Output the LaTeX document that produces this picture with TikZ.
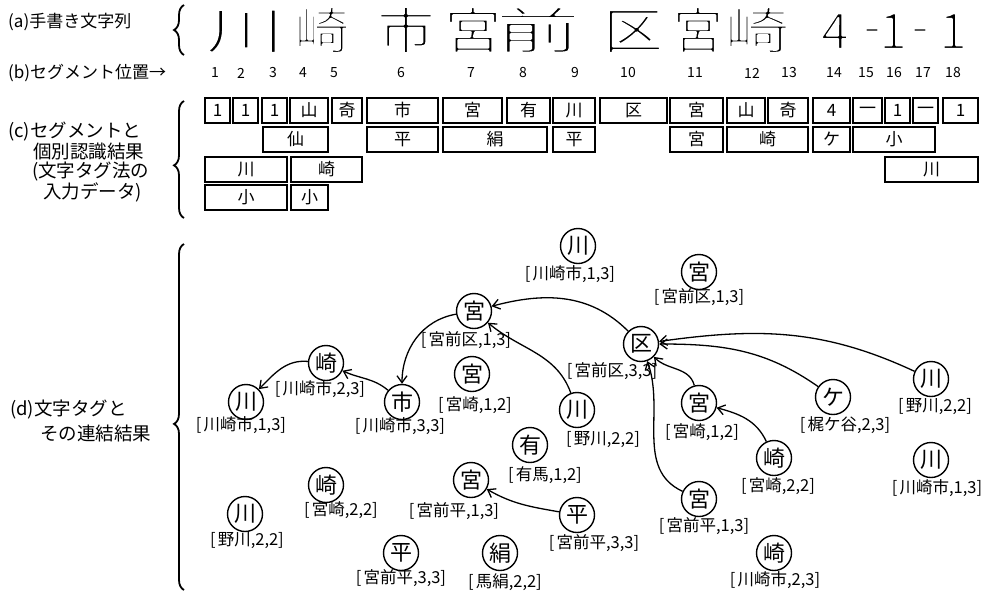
\documentclass[tikz,border=0pt]{standalone}
\usepackage{graphicx}
\usepackage{fontspec}
\setmainfont{Noto Sans CJK JP}
\usetikzlibrary{arrows.meta,decorations.pathreplacing}
\newcommand{\mkseg}[5]{\node[segbox,minimum width={(#3)-(#2)}] (#1) at ({((#2)+(#3))/2},#4) {#5};}
\newcommand{\tagtxt}[1]{[\kern2pt #1]}
\newcommand{\thin}[1]{\special{pdf:code 2 Tr 1 1 1 RG 2.2 w 1 j}#1\special{pdf:code 0 Tr 0 0 0 RG 0.4 w 0 j}}
\begin{document}
\begin{tikzpicture}[x=1pt,y=1pt,
 tagc/.style={circle,draw,line width=1.4pt,minimum size=35pt,inner sep=0pt,font=\fontsize{22}{22}\selectfont},
 taglbl/.style={inner sep=0pt,font=\fontsize{16.5}{16.5}\selectfont},
 segbox/.style={draw,line width=1.2pt,minimum height=25pt,inner sep=0pt,font=\fontsize{17}{17}\selectfont},
 lbl/.style={anchor=west,inner sep=0pt,font=\fontsize{17}{17}\selectfont},
 lblb/.style={anchor=west,inner sep=0pt,font=\fontsize{18.5}{18.5}\selectfont},
 num/.style={inner sep=0pt,font=\fontsize{14}{14}\selectfont},
 hw/.style={inner sep=0pt,anchor=base,font=\fontsize{50}{50}\selectfont},
 link/.style={line width=1.3pt,-{Straight Barb[length=7pt,width=10pt]}},
 brc/.style={decorate,line width=1.8pt,decoration={brace,amplitude=10pt,#1}},
 brc/.default={aspect=0.5}
]
\useasboundingbox (0,0) rectangle (987,-592);

% ---- left labels
\node[lbl] (la) at (8,-22) {(a)手書き文字列};
\node[lbl] (lb) at (8,-73) {(b)セグメント位置→};
\node[lblb] (lc1) at (8,-132) {(c)セグメントと};
\node[lblb] (lc2) at (33,-152) {個別認識結果};
\node[lblb] (lc3) at (32,-172) {(文字タグ法の};
\node[lblb] (lc4) at (43,-192) {入力データ)};
\node[lblb] (ld1) at (10,-410) {(d)文字タグと};
\node[lblb] (ld2) at (40,-433) {その連結結果};

% ---- braces
\draw[brc] (184,-55) -- (184,-5);
\draw[brc={aspect=0.45}] (184,-218) -- (184,-101);
\draw[brc={aspect=0.48}] (184,-590) -- (184,-244);

% ---- (a) handwritten string
\node[hw] (h1) at (245,-49) {\scalebox{1.6}[1]{\thin{川}}};
\node[hw] (h2) at (322,-49) {\scalebox{1.1}[1]{\thin{崎}}};
\node[hw] (h3) at (406,-49) {\scalebox{1.15}[1]{\thin{市}}};
\node[hw] (h4) at (473,-49) {\scalebox{1.15}[1]{\thin{宮}}};
\node[hw] (h5) at (538,-49) {\scalebox{1.7}[1]{\thin{前}}};
\node[hw] (h6) at (633,-49) {\scalebox{1.2}[1]{\thin{区}}};
\node[hw] (h7) at (698,-49) {\thin{宮}};
\node[hw] (h8) at (757,-49) {\scalebox{1.3}[1]{\thin{崎}}};
\node[hw] (h9) at (835,-49) {\thin{4}};
\node[hw] (h10) at (872,-44) {\thin{-}};
\node[hw] (h11) at (893,-49) {\thin{1}};
\node[hw] (h12) at (920,-44) {\thin{-}};
\node[hw] (h13) at (953,-49) {\thin{1}};

% ---- (b) segment positions
\foreach \n/\x in {1/215,2/241,3/273,4/303,5/334,6/401,7/471,8/523,9/575,10/628,11/695,12/752,13/789,14/834,15/866,16/894,17/923,18/953}
  \node[num] (n\n) at (\x,-73) {\n};

% ---- (c) segments, row 1
\mkseg{r1a}{205}{230}{-110.5}{1}
\mkseg{r1b}{233}{258}{-110.5}{1}
\mkseg{r1c}{262}{287}{-110.5}{1}
\mkseg{r1d}{290}{328}{-110.5}{山}
\mkseg{r1e}{332}{362}{-110.5}{奇}
\mkseg{r1f}{367}{438}{-110.5}{市}
\mkseg{r1g}{443}{502}{-110.5}{宮}
\mkseg{r1h}{507}{550}{-110.5}{有}
\mkseg{r1i}{553}{595}{-110.5}{川}
\mkseg{r1j}{600}{667}{-110.5}{区}
\mkseg{r1k}{670}{723}{-110.5}{宮}
\mkseg{r1l}{727}{765}{-110.5}{山}
\mkseg{r1m}{768}{808}{-110.5}{奇}
\mkseg{r1n}{813}{850}{-110.5}{4}
\mkseg{r1o}{853}{882}{-110.5}{一}
\mkseg{r1p}{885}{910}{-110.5}{1}
\mkseg{r1q}{913}{938}{-110.5}{一}
\mkseg{r1r}{943}{978}{-110.5}{1}
% row 2
\mkseg{r2a}{263}{328}{-139.5}{仙}
\mkseg{r2b}{367}{438}{-139.5}{平}
\mkseg{r2c}{443}{547}{-139.5}{絹}
\mkseg{r2d}{553}{595}{-139.5}{平}
\mkseg{r2e}{670}{723}{-139.5}{宮}
\mkseg{r2f}{727}{808}{-139.5}{崎}
\mkseg{r2g}{813}{850}{-139.5}{ケ}
\mkseg{r2h}{853}{935}{-139.5}{小}
% row 3
\mkseg{r3a}{205}{287}{-169.5}{川}
\mkseg{r3b}{291}{362}{-169.5}{崎}
\mkseg{r3c}{885}{978}{-169.5}{川}
% row 4
\mkseg{r4a}{205}{287}{-197.5}{小}
\mkseg{r4b}{291}{328}{-197.5}{小}

% ---- (d) character tags
\node[tagc] (kawaT) at (578,-246) {川};
\node[taglbl] (kawaTl) at (570,-274) {\tagtxt{川崎市,1,3}};
\node[tagc] (miyaR) at (699,-272) {宮};
\node[taglbl] (miyaRl) at (699,-297) {\tagtxt{宮前区,1,3}};
\node[tagc] (miyaA) at (474,-311) {宮};
\node[taglbl] (miyaAl) at (466,-340) {\tagtxt{宮前区,1,3}};
\node[tagc] (ku) at (641,-344) {区};
\node[taglbl] (kul) at (612,-371) {\tagtxt{宮前区,3,3}};
\node[tagc] (sakiA) at (326,-363) {崎};
\node[taglbl] (sakiAl) at (320,-389) {\tagtxt{川崎市,2,3}};
\node[tagc] (kawaA) at (246,-402) {川};
\node[taglbl] (kawaAl) at (241,-425) {\tagtxt{川崎市,1,3}};
\node[tagc] (shi) at (402,-402) {市};
\node[taglbl] (shil) at (400,-426) {\tagtxt{川崎市,3,3}};
\node[tagc] (miyaM) at (472,-374) {宮};
\node[taglbl] (miyaMl) at (475,-405) {\tagtxt{宮崎,1,2}};
\node[tagc] (kawaN) at (577,-410) {川};
\node[taglbl] (kawaNl) at (603,-440) {\tagtxt{野川,2,2}};
\node[tagc] (miyaB) at (699,-403) {宮};
\node[taglbl] (miyaBl) at (702,-432) {\tagtxt{宮崎,1,2}};
\node[tagc] (ke) at (833,-397) {ケ};
\node[taglbl] (kel) at (845,-425) {\tagtxt{梶ケ谷,2,3}};
\node[tagc] (kawaB) at (931,-379) {川};
\node[taglbl] (kawaBl) at (935,-407) {\tagtxt{野川,2,2}};
\node[tagc] (ari) at (530,-445) {有};
\node[taglbl] (aril) at (545,-475) {\tagtxt{有馬,1,2}};
\node[tagc] (miyaD) at (471,-480) {宮};
\node[taglbl] (miyaDl) at (454,-511) {\tagtxt{宮前平,1,3}};
\node[tagc] (heiA) at (577,-515) {平};
\node[taglbl] (heiAl) at (594,-543) {\tagtxt{宮前平,3,3}};
\node[tagc] (miyaC) at (699,-499) {宮};
\node[taglbl] (miyaCl) at (704,-526) {\tagtxt{宮前平,1,3}};
\node[tagc] (sakiB) at (774,-458) {崎};
\node[taglbl] (sakiBl) at (778,-486) {\tagtxt{宮崎,2,2}};
\node[tagc] (sakiL) at (326,-485) {崎};
\node[taglbl] (sakiLl) at (341,-510) {\tagtxt{宮崎,2,2}};
\node[tagc] (kawaL) at (245,-514) {川};
\node[taglbl] (kawaLl) at (247,-541) {\tagtxt{野川,2,2}};
\node[tagc] (heiB) at (401,-553) {平};
\node[taglbl] (heiBl) at (401,-578) {\tagtxt{宮前平,3,3}};
\node[tagc] (kinu) at (500,-553) {絹};
\node[taglbl] (kinul) at (505,-582) {\tagtxt{馬絹,2,2}};
\node[tagc] (sakiC) at (774,-553) {崎};
\node[taglbl] (sakiCl) at (775,-580) {\tagtxt{川崎市,2,3}};
\node[tagc] (kawaR) at (931,-460) {川};
\node[taglbl] (kawaRl) at (937,-488) {\tagtxt{川崎市,1,3}};

% ---- links
\draw[link] (ku) to[out=135,in=15] (miyaA);
\draw[link] (kawaN) to[out=110,in=-40] (miyaA);
\draw[link] (miyaA) to[out=190,in=90] (shi);
\draw[link] (shi) to[out=140,in=-25] (sakiA);
\draw[link] (sakiA) to[out=175,in=45] (kawaA);
\draw[link] (kawaB) to[out=155,in=8] (ku);
\draw[link] (ke) to[out=145,in=0] (ku);
\draw[link] (miyaB) to[out=105,in=-45] (ku);
\draw[link] (miyaC) to[out=155,in=-70] (ku);
\draw[link] (sakiB) to[out=115,in=-15] (miyaB);
\draw[link] (heiA) to[out=170,in=-30] (miyaD);
\end{tikzpicture}
\end{document}
